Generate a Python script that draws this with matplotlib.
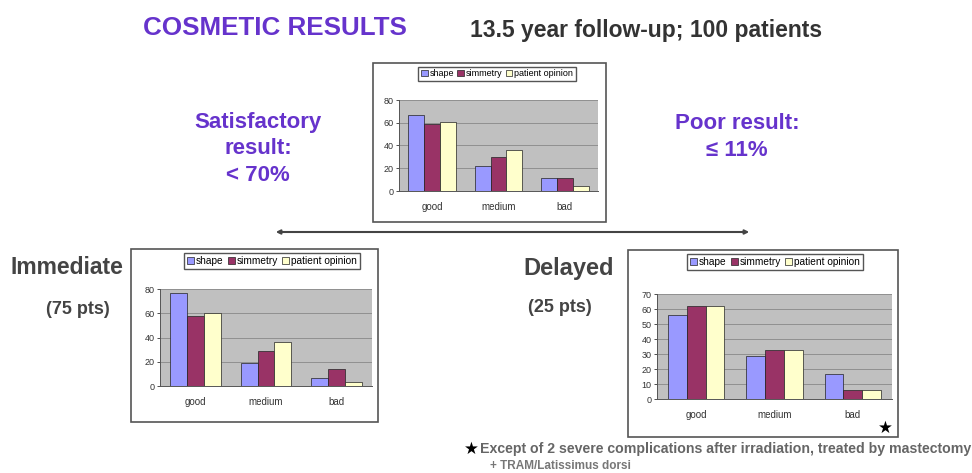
import matplotlib
matplotlib.use('Agg')
import matplotlib.pyplot as plt
import numpy as np
from matplotlib.patches import Rectangle, FancyArrowPatch

plt.rcParams['font.family'] = ['Liberation Sans', 'DejaVu Sans']

categories = ['good', 'medium', 'bad']
series = ['shape', 'simmetry', 'patient opinion']
colors = ['#9999FF', '#993366', '#FFFFCC']

all_shape = [67, 22, 11]
all_sym = [59, 30, 11]
all_opinion = [61, 36, 4]

imm_shape = [77, 19, 7]
imm_sym = [58, 29, 14]
imm_opinion = [60, 36, 3]

del_shape = [56, 29, 17]
del_sym = [62, 33, 6]
del_opinion = [62, 33, 6]

W, H = 972, 473
fig = plt.figure(figsize=(W / 100, H / 100), dpi=100)
fig.patch.set_facecolor('white')


def fx(x):
  return x / W


def fy(y):
  return 1 - y / H


def box(x0, y0, x1, y1):
  r = Rectangle((fx(x0), fy(y1)), fx(x1) - fx(x0), fy(y0) - fy(y1),
                transform=fig.transFigure, fill=False, edgecolor='#555555', lw=1.2)
  fig.patches.append(r)


def chart(area, legend_xy, vals, ymax, ystep, lfs):
  x0, y0, x1, y1 = area
  ax = fig.add_axes([fx(x0), fy(y1), fx(x1) - fx(x0), fy(y0) - fy(y1)])
  ax.set_facecolor('#c0c0c0')
  x = np.arange(len(categories))
  w = 0.24
  for i, v in enumerate(vals):
    ax.bar(x + (i - 1) * w, v, w, color=colors[i], edgecolor='#222222', lw=0.5,
           label=series[i], zorder=3)
  ax.set_xlim(-0.5, 2.5)
  ax.set_ylim(0, ymax)
  ax.set_yticks(np.arange(0, ymax + 1, ystep))
  ax.set_xticks(x)
  ax.set_xticklabels(categories, fontsize=7, color='#333333')
  ax.tick_params(axis='y', labelsize=6.5, length=2, width=0.6, colors='#333333', pad=2)
  ax.tick_params(axis='x', length=0, pad=8)
  ax.grid(axis='y', color='#888888', lw=0.6, zorder=0)
  ax.set_axisbelow(True)
  for s in ['top', 'right']:
    ax.spines[s].set_visible(False)
  for s in ['left', 'bottom']:
    ax.spines[s].set_color('#555555')
    ax.spines[s].set_linewidth(0.7)
  ax.legend(loc='center', bbox_to_anchor=(fx(legend_xy[0]), fy(legend_xy[1])),
            bbox_transform=fig.transFigure, ncol=3, fontsize=lfs, frameon=True,
            fancybox=False, edgecolor='#555555', handlelength=0.7, handleheight=0.7,
            handletextpad=0.2, columnspacing=0.4, borderpad=0.3, framealpha=1)
  return ax


# top chart
box(373, 63, 606, 222)
chart((399, 100, 598, 191), (497, 74), [all_shape, all_sym, all_opinion], 80, 20, 6.5)

# immediate
box(131, 249, 378, 422)
chart((160, 289, 372, 386), (272, 261), [imm_shape, imm_sym, imm_opinion], 80, 20, 7.3)

# delayed
box(628, 250, 898, 437)
chart((657, 294, 892, 399), (775, 262), [del_shape, del_sym, del_opinion], 70, 10, 7.3)

purple = '#6633CC'
fig.text(fx(143), fy(28), 'COSMETIC RESULTS', fontsize=18.7,
         fontweight='bold', color=purple, va='center', ha='left')
fig.text(fx(470), fy(30), '13.5 year follow-up; 100 patients', fontsize=16.5,
         fontweight='bold', color='#333333', va='center', ha='left')

fig.text(fx(258), fy(149), 'Satisfactory\nresult:\n< 70%', fontsize=16,
         fontweight='bold', color=purple, va='center', ha='center', linespacing=1.35)
fig.text(fx(737), fy(137), 'Poor result:\n\u2264 11%', fontsize=16,
         fontweight='bold', color=purple, va='center', ha='center', linespacing=1.4)

fig.text(fx(10), fy(268), 'Immediate', fontsize=16.5, fontweight='bold',
         color='#444444', va='center', ha='left')
fig.text(fx(78), fy(309), '(75 pts)', fontsize=13, fontweight='bold',
         color='#444444', va='center', ha='center')
fig.text(fx(523), fy(268), 'Delayed', fontsize=17, fontweight='bold',
         color='#444444', va='center', ha='left')
fig.text(fx(560), fy(307), '(25 pts)', fontsize=13, fontweight='bold',
         color='#444444', va='center', ha='center')

arrow = FancyArrowPatch((fx(273), fy(232)), (fx(752), fy(232)), transform=fig.transFigure,
                        arrowstyle='<|-|>', mutation_scale=6, color='#444444', lw=1.5)
fig.patches.append(arrow)

fig.text(fx(885), fy(428), '\u2605', family='DejaVu Sans', fontsize=12,
         color='black', va='center', ha='center')
fig.text(fx(464), fy(449), '\u2605', family='DejaVu Sans', fontsize=12,
         color='black', va='center', ha='left')
fig.text(fx(480), fy(449), 'Except of 2 severe complications after irradiation, treated by mastectomy',
         fontsize=10.2, fontweight='bold', color='#666666', va='center', ha='left')
fig.text(fx(490), fy(466), '+ TRAM/Latissimus dorsi', fontsize=8.5, fontweight='bold',
         color='#777777', va='center', ha='left')

fig.savefig('out.png', dpi=100)
